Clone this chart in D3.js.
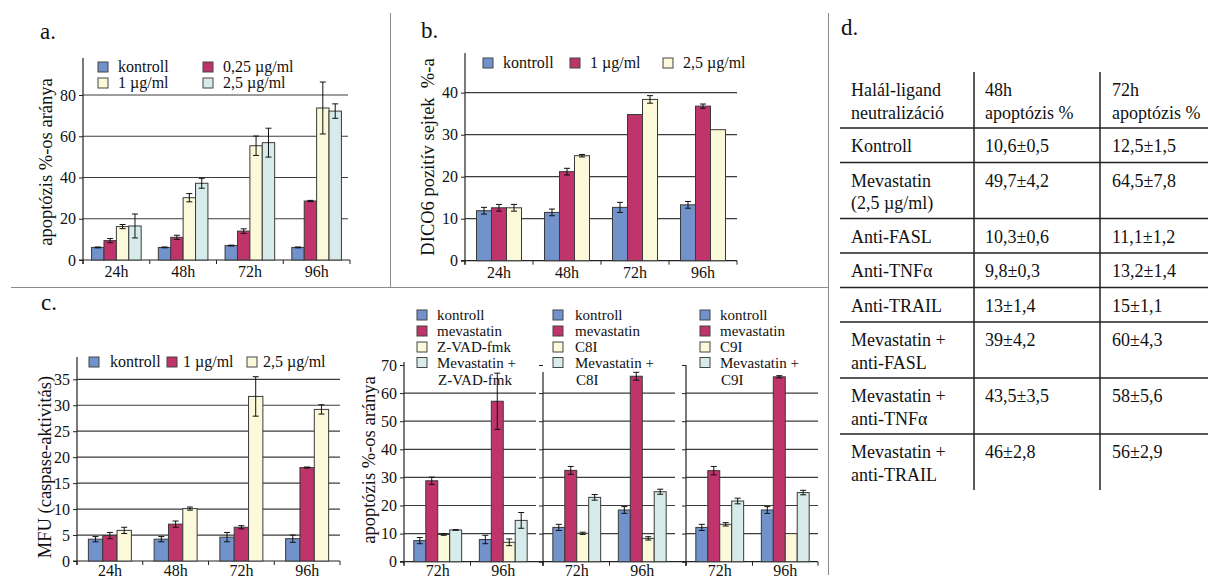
<!DOCTYPE html>
<html>
<head>
<meta charset="utf-8">
<script src="https://cdn.jsdelivr.net/npm/d3@7"></script>
<style>
body { margin: 0; background: #fff; }
svg { display: block; font-family: "Liberation Serif", "Times New Roman", serif; }
</style>
</head>
<body>
<svg id="fig" width="1208" height="578"></svg>
<script>
// ---- data ----
const timesA = ["24h", "48h", "72h", "96h"];
const seriesA = ["kontroll", "0,25 µg/ml", "1 µg/ml", "2,5 µg/ml"];
const valuesA = [
    [6.1, 9.4, 16.2, 16.5],
    [6.1, 11.0, 30.2, 37.2],
    [7.0, 14.0, 55.4, 56.9],
    [6.1, 28.6, 73.7, 72.2]
];
const errorsA = [
    [0.2, 1.0, 1.0, 5.8],
    [0.2, 1.0, 2.0, 2.4],
    [0.2, 1.1, 4.7, 7.0],
    [0.2, 0.3, 12.6, 3.5]
];
const ticksA = [0, 20, 40, 60, 80];

const seriesB = ["kontroll", "1 µg/ml", "2,5 µg/ml"];
const valuesB = [
    [11.9, 12.6, 12.6],
    [11.5, 21.2, 25.0],
    [12.7, 34.8, 38.4],
    [13.3, 36.8, 31.2]
];
const errorsB = [
    [0.8, 0.8, 0.8],
    [0.8, 0.8, 0.3],
    [1.2, 0, 0.9],
    [0.8, 0.5, 0]
];
const ticksB = [0, 10, 20, 30, 40];

const valuesC = [
    [4.2, 4.9, 5.9],
    [4.2, 7.1, 10.1],
    [4.6, 6.5, 31.7],
    [4.3, 18.0, 29.2]
];
const errorsC = [
    [0.5, 0.6, 0.6],
    [0.5, 0.6, 0.3],
    [0.9, 0.3, 3.8],
    [0.7, 0.1, 0.9]
];
const ticksC = [0, 5, 10, 15, 20, 25, 30, 35];

const timesD = ["72h", "96h"];
const inhibitors = ["Z-VAD-fmk", "C8I", "C9I"];
const valuesZvad = [[7.5, 28.8, 9.7, 11.3], [7.9, 57.1, 6.9, 14.7]];
const errorsZvad = [[1.1, 1.3, 0.3, 0.1], [1.5, 10.0, 1.2, 2.8]];
const valuesC8 = [[12.2, 32.5, 10.1, 22.9], [18.4, 66.0, 8.3, 24.9]];
const errorsC8 = [[1.1, 1.4, 0.4, 1.0], [1.2, 1.4, 0.6, 0.9]];
const valuesC9 = [[12.2, 32.4, 13.3, 21.6], [18.4, 65.8, 10.0, 24.6]];
const errorsC9 = [[1.1, 1.5, 0.6, 1.0], [1.2, 0.4, 0, 0.8]];
const ticksD = [0, 10, 20, 30, 40, 50, 60, 70];

const tableHead = [["Halál-ligand", "neutralizáció"], ["48h", "apoptózis %"], ["72h", "apoptózis %"]];
const tableLabels = [
    ["Kontroll"],
    ["Mevastatin", "(2,5 µg/ml)"],
    ["Anti-FASL"],
    ["Anti-TNFα"],
    ["Anti-TRAIL"],
    ["Mevastatin +", "anti-FASL"],
    ["Mevastatin +", "anti-TNFα"],
    ["Mevastatin +", "anti-TRAIL"]
];
const table48 = ["10,6±0,5", "49,7±4,2", "10,3±0,6", "9,8±0,3", "13±1,4", "39±4,2", "43,5±3,5", "46±2,8"];
const table72 = ["12,5±1,5", "64,5±7,8", "11,1±1,2", "13,2±1,4", "15±1,1", "60±4,3", "58±5,6", "56±2,9"];

const colors = ["#7192cb", "#be346b", "#fcf8da", "#d6ebea"];

// ---- helpers ----
const svg = d3.select("#fig");

function barChart(o) {
    const g = svg.append("g");

    const x = d3.scaleBand()
        .domain(o.cats)
        .range([o.x0, o.x1])
        .paddingInner(o.pi)
        .paddingOuter(o.po);

    const nS = o.values[0].length;
    const xs = d3.scaleBand().domain(d3.range(nS)).range([0, x.bandwidth()]);

    const y = d3.scaleLinear().domain([0, o.ymax]).range([o.y0, o.yTop]);

    // gridlines
    g.append("g").selectAll("line")
        .data(o.ticks.filter(t => t > 0 && t <= o.gridMax))
        .enter().append("line")
        .attr("x1", o.x0).attr("x2", o.gridEnd)
        .attr("y1", d => y(d)).attr("y2", d => y(d))
        .attr("stroke", "#3c3c3c").attr("stroke-width", 1.2);

    // y axis
    const yAxis = d3.axisLeft(y)
        .tickValues(o.ticks)
        .tickSize(4)
        .tickPadding(3)
        .tickFormat(o.tickLabels ? d3.format("d") : "");
    const ya = g.append("g")
        .attr("transform", `translate(${o.x0},0)`)
        .call(yAxis);
    ya.select(".domain").remove();
    ya.attr("font-family", null).attr("font-size", null);
    ya.selectAll("line").attr("stroke", "#222");
    ya.selectAll("text").attr("font-size", 16).attr("fill", "#111");

    g.append("line")
        .attr("x1", o.x0).attr("x2", o.x0)
        .attr("y1", o.y0 + 4).attr("y2", o.axisTop)
        .attr("stroke", "#222").attr("stroke-width", 1.2);

    // x axis line and boundary ticks
    g.append("line")
        .attr("x1", o.x0 - 4).attr("x2", o.xEnd)
        .attr("y1", o.y0).attr("y2", o.y0)
        .attr("stroke", "#222").attr("stroke-width", 1.2);

    const bounds = [o.x0].concat(o.cats.slice(1).map(c => x(c) - x.step() * x.paddingInner() / 2), [o.xEnd]);
    g.append("g").selectAll("line")
        .data(bounds)
        .enter().append("line")
        .attr("x1", d => d).attr("x2", d => d)
        .attr("y1", o.y0).attr("y2", o.y0 + 4)
        .attr("stroke", "#222");

    g.append("g").selectAll("text")
        .data(o.cats)
        .enter().append("text")
        .attr("x", d => x(d) + x.bandwidth() / 2)
        .attr("y", o.y0 + (o.labelGap || 17))
        .attr("text-anchor", "middle")
        .attr("font-size", 16)
        .attr("fill", "#111")
        .text(d => d);

    // bars
    const groups = g.append("g").selectAll("g")
        .data(o.cats)
        .enter().append("g")
        .attr("transform", d => `translate(${x(d)},0)`);

    groups.selectAll("rect")
        .data((d, i) => o.values[i].map((v, j) => ({ v: v, e: o.errors[i][j], j: j })))
        .enter().append("rect")
        .attr("x", d => xs(d.j))
        .attr("width", xs.bandwidth())
        .attr("y", d => y(d.v))
        .attr("height", d => o.y0 - y(d.v))
        .attr("fill", d => colors[d.j])
        .attr("stroke", "#3a3a3a")
        .attr("stroke-width", 1);

    const eb = groups.selectAll(".err")
        .data((d, i) => o.values[i].map((v, j) => ({ v: v, e: o.errors[i][j], j: j })).filter(d => d.e > 0))
        .enter().append("g")
        .attr("class", "err")
        .attr("stroke", "#111")
        .attr("stroke-width", 1);
    eb.append("line")
        .attr("x1", d => xs(d.j) + xs.bandwidth() / 2)
        .attr("x2", d => xs(d.j) + xs.bandwidth() / 2)
        .attr("y1", d => y(d.v - d.e))
        .attr("y2", d => y(d.v + d.e));
    eb.selectAll(".cap")
        .data(d => [d.v - d.e, d.v + d.e].map(val => ({ val: val, j: d.j })))
        .enter().append("line")
        .attr("x1", d => xs(d.j) + xs.bandwidth() / 2 - 3)
        .attr("x2", d => xs(d.j) + xs.bandwidth() / 2 + 3)
        .attr("y1", d => y(d.val))
        .attr("y2", d => y(d.val));

    // y label
    if (o.label) {
        g.append("text")
            .attr("transform", `translate(${o.labelX},${o.labelY}) rotate(-90)`)
            .attr("text-anchor", "middle")
            .attr("dy", "0.35em")
            .attr("font-size", 18.5)
            .attr("fill", "#111")
            .attr("xml:space", "preserve")
            .text(o.label);
    }
    return g;
}

function legend(items, fs) {
    const g = svg.append("g");
    items.forEach(it => {
        if (it.color) {
            g.append("rect")
                .attr("x", it.sx).attr("y", it.cy - 5)
                .attr("width", 10).attr("height", 10)
                .attr("fill", it.color)
                .attr("stroke", "#444").attr("stroke-width", 1);
        }
        g.append("text")
            .attr("x", it.tx).attr("y", it.cy + 5)
            .attr("font-size", fs || 16)
            .attr("fill", "#111")
            .text(it.text);
    });
}

function panelLetter(t, px, py) {
    svg.append("text").attr("x", px).attr("y", py)
        .attr("font-size", 23).attr("fill", "#111").text(t);
}

// ---- separators ----
const sep = svg.append("g").attr("stroke", "#8a8a8a").attr("stroke-width", 1);
sep.append("line").attr("x1", 11).attr("x2", 828).attr("y1", 287.5).attr("y2", 287.5);
sep.append("line").attr("x1", 390.5).attr("x2", 390.5).attr("y1", 13).attr("y2", 287.5);
sep.append("line").attr("x1", 828.5).attr("x2", 828.5).attr("y1", 13).attr("y2", 575);

// ---- panel a ----
panelLetter("a.", 40, 39);
barChart({
    cats: timesA, values: valuesA, errors: errorsA,
    x0: 83, x1: 350, pi: 0.257, po: 0.1285, xEnd: 350,
    y0: 260, yTop: 95, ymax: 80, axisTop: 58,
    ticks: ticksA, gridMax: 80, gridEnd: 348, tickLabels: true,
    label: "apoptózis %-os aránya", labelX: 46, labelY: 162
});
legend([
    { sx: 98, tx: 118, cy: 67, color: colors[0], text: seriesA[0] },
    { sx: 203, tx: 223, cy: 67, color: colors[1], text: seriesA[1] },
    { sx: 98, tx: 118, cy: 83, color: colors[2], text: seriesA[2] },
    { sx: 203, tx: 223, cy: 83, color: colors[3], text: seriesA[3] }
]);

// ---- panel b ----
panelLetter("b.", 421, 38);
barChart({
    cats: timesA, values: valuesB, errors: errorsB,
    x0: 465, x1: 737, pi: 0.338, po: 0.169, xEnd: 737,
    y0: 260.7, yTop: 92.7, ymax: 40, axisTop: 53,
    ticks: ticksB, gridMax: 40, gridEnd: 737, tickLabels: true,
    label: "DICO6 pozitív sejtek  %-a", labelX: 428, labelY: 157
});
legend([
    { sx: 483, tx: 503, cy: 63, color: colors[0], text: seriesB[0] },
    { sx: 570, tx: 590, cy: 63, color: colors[1], text: seriesB[1] },
    { sx: 663, tx: 683, cy: 63, color: colors[2], text: seriesB[2] }
]);

// ---- panel c (left) ----
panelLetter("c.", 41, 310);
barChart({
    cats: timesA, values: valuesC, errors: errorsC,
    x0: 77, x1: 340, pi: 0.346, po: 0.173, xEnd: 340,
    y0: 561, yTop: 379.3, ymax: 35, axisTop: 357, labelGap: 15,
    ticks: ticksC, gridMax: 35, gridEnd: 340, tickLabels: true,
    label: "MFU (caspase-aktivitás)", labelX: 45, labelY: 467
});
legend([
    { sx: 89, tx: 110, cy: 362, color: colors[0], text: seriesB[0] },
    { sx: 167, tx: 183, cy: 362, color: colors[1], text: seriesB[1] },
    { sx: 247, tx: 263, cy: 362, color: colors[2], text: seriesB[2] }
]);

// ---- panel c (right, three inhibitor plots) ----
const subX = [404, 543, 686];
const subTop = [362, 372, 365];
const subVals = [valuesZvad, valuesC8, valuesC9];
const subErrs = [errorsZvad, errorsC8, errorsC9];
const subLegX = [[417, 437], [553, 575], [700, 720]];
subX.forEach((x0, k) => {
    barChart({
        cats: timesD, values: subVals[k], errors: subErrs[k],
        x0: x0, x1: x0 + 133, pi: 0.27, po: 0.15, xEnd: k < 2 ? subX[k + 1] : x0 + 132,
        y0: 561.7, yTop: 365, ymax: 70, axisTop: subTop[k], labelGap: 14.5,
        ticks: ticksD, gridMax: 60, gridEnd: x0 + 132, tickLabels: k === 0,
        label: k === 0 ? "apoptózis %-os aránya" : null, labelX: 369, labelY: 460
    });
    const [sx, tx] = subLegX[k];
    legend([
        { sx: sx, tx: tx, cy: 315, color: colors[0], text: "kontroll" },
        { sx: sx, tx: tx, cy: 331, color: colors[1], text: "mevastatin" },
        { sx: sx, tx: tx, cy: 347, color: colors[2], text: inhibitors[k] },
        { sx: sx, tx: tx, cy: 362.5, color: colors[3], text: "Mevastatin +" },
        { sx: sx, tx: tx + 1, cy: 380, color: null, text: inhibitors[k] }
    ], 15);
});

// ---- panel d (table) ----
panelLetter("d.", 841, 35);
const tbl = svg.append("g").attr("font-size", 18).attr("fill", "#111");
const colX = [851, 985, 1112];
const lineH = 22.5;
const allRows = [tableHead].concat(tableLabels.map((l, i) => [l, [table48[i]], [table72[i]]]));
let rowY = 72;
const rowEnds = [];
allRows.forEach(row => {
    const nLines = d3.max(row, c => c.length);
    row.forEach((cell, ci) => {
        cell.forEach((line, li) => {
            tbl.append("text")
                .attr("x", colX[ci])
                .attr("y", rowY + 24 + li * lineH)
                .text(line);
        });
    });
    rowY += nLines === 2 ? 56 : 34.5;
    rowEnds.push(rowY);
});
const tl = svg.append("g").attr("stroke", "#222").attr("stroke-width", 1.5);
rowEnds.slice(0, -1).forEach(yy => {
    tl.append("line").attr("x1", 840).attr("x2", 1208).attr("y1", yy).attr("y2", yy);
});
[974, 1100].forEach(xx => {
    tl.append("line").attr("x1", xx).attr("x2", xx).attr("y1", 72).attr("y2", rowY);
});
</script>
</body>
</html>
